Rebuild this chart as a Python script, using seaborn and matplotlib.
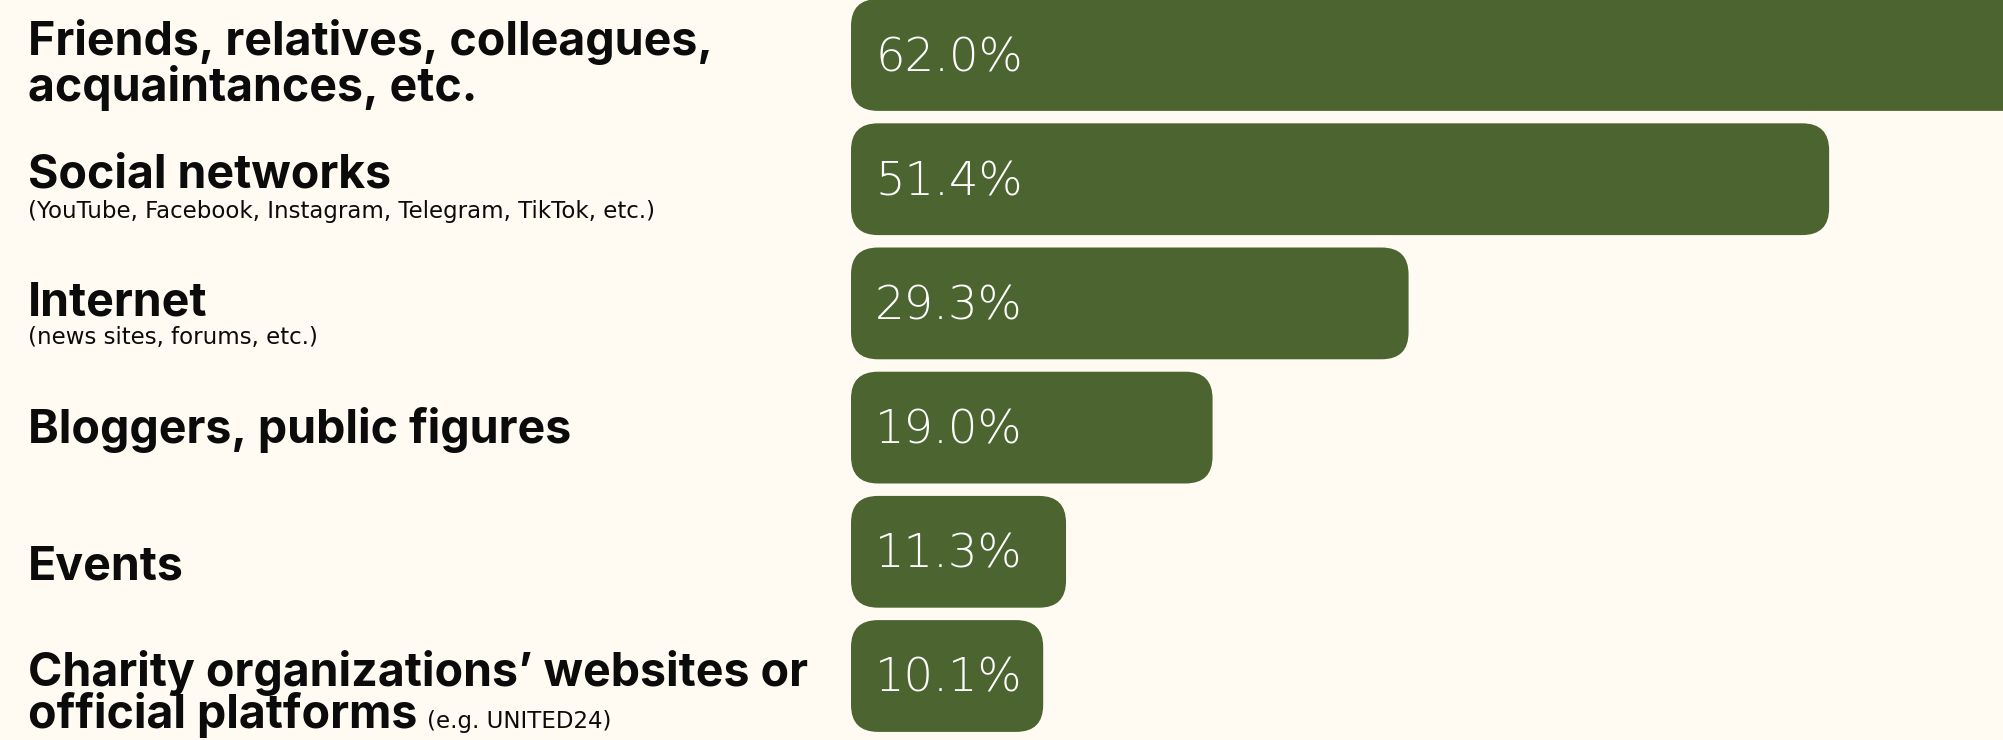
import matplotlib
matplotlib.use("Agg")
import matplotlib.pyplot as plt
import seaborn as sns
import pandas as pd
from matplotlib.patches import FancyBboxPatch

# ---------------- data ----------------
categories = [
    "Friends, relatives, colleagues,\nacquaintances, etc.",
    "Social networks",
    "Internet",
    "Bloggers, public figures",
    "Events",
    "Charity organizations\u2019 websites or\nofficial platforms",
]
notes = [
    "",
    "(YouTube, Facebook, Instagram, Telegram, TikTok, etc.)",
    "(news sites, forums, etc.)",
    "",
    "",
    "(e.g. UNITED24)",
]
values = [62.0, 51.4, 29.3, 19.0, 11.3, 10.1]

# ---------------- layout / style ----------------
BG = "#FFFBF3"
BAR = "#4B6430"
INK = "#0B0B0B"

W, H, DPI = 2003, 740, 100
PX_PER_PCT = 19.03
BAR_LEFT = 851
PITCH = 124.2
TOP_CENTER = 55
R_PX = 27

MAIN_FONT = ["Inter", "Open Sans", "DejaVu Sans"]
NOTE_FONT = ["DejaVu Sans"]
VALUE_FONT = ["DejaVu Sans"]
MAIN_SIZE = 33.5
NOTE_SIZE = 16.5
VALUE_SIZE = 33.5

# baseline offsets (px below bar centre) for each line of the labels
line_offsets = [[0, 46], [8.5], [12], [15], [28], [10, 52]]
note_offsets = [None, 38.5, 40.5, None, None, "inline"]

sns.set_theme(style="white")
plt.rcParams["font.family"] = ["Inter", "DejaVu Sans"]

fig = plt.figure(figsize=(W / DPI, H / DPI), dpi=DPI, facecolor=BG)
ax = fig.add_axes([BAR_LEFT / W, 0, (W - BAR_LEFT) / W, 1])
ax.set_facecolor(BG)

df = pd.DataFrame({"category": categories, "value": values})
sns.barplot(data=df, x="value", y="category", orient="h", color=BAR,
            saturation=1, width=0.9, ax=ax)
ax.set_xlim(0, (W - BAR_LEFT) / PX_PER_PCT)
ax.set_ylim((H - TOP_CENTER) / PITCH, -TOP_CENTER / PITCH)
ax.axis("off")

# rounded bars
rx = R_PX / PX_PER_PCT
ry = R_PX / PITCH
for p in list(ax.patches):
    x0, y0 = p.get_x(), p.get_y()
    w, h = p.get_width(), p.get_height()
    p.remove()
    ax.add_patch(FancyBboxPatch((x0, y0), w, h,
                                boxstyle=f"round,pad=0,rounding_size={rx}",
                                mutation_aspect=ry / rx,
                                facecolor=BAR, edgecolor="none", linewidth=0))

# value labels
for i, v in enumerate(values):
    ax.annotate(f"{v:.1f}%", xy=(0, i), xytext=(24, -16),
                textcoords="offset pixels", color="white", fontsize=VALUE_SIZE,
                family=VALUE_FONT, fontweight="light", va="baseline", ha="left")

# category labels
LABEL_X = 28 / W
for i, cat in enumerate(categories):
    last = None
    for j, line in enumerate(cat.split("\n")):
        last = ax.annotate(line, xy=(LABEL_X, i), xycoords=("figure fraction", "data"),
                           xytext=(0, -line_offsets[i][j]), textcoords="offset pixels",
                           fontsize=MAIN_SIZE, fontweight="bold", color=INK, family=MAIN_FONT,
                           va="baseline", ha="left", annotation_clip=False)
    if notes[i]:
        if note_offsets[i] == "inline":
            fig.canvas.draw()
            ext = last.get_window_extent()
            ax.annotate(notes[i], xy=(LABEL_X, i), xycoords=("figure fraction", "data"),
                        xytext=(ext.x1 - LABEL_X * W + 10, -line_offsets[i][-1]),
                        textcoords="offset pixels", fontsize=NOTE_SIZE, color=INK,
                        family=NOTE_FONT, va="baseline", ha="left", annotation_clip=False)
        else:
            ax.annotate(notes[i], xy=(LABEL_X, i), xycoords=("figure fraction", "data"),
                        xytext=(0, -note_offsets[i]), textcoords="offset pixels",
                        fontsize=NOTE_SIZE, color=INK, family=NOTE_FONT,
                        va="baseline", ha="left", annotation_clip=False)

fig.savefig("out.png", dpi=DPI, facecolor=BG)
